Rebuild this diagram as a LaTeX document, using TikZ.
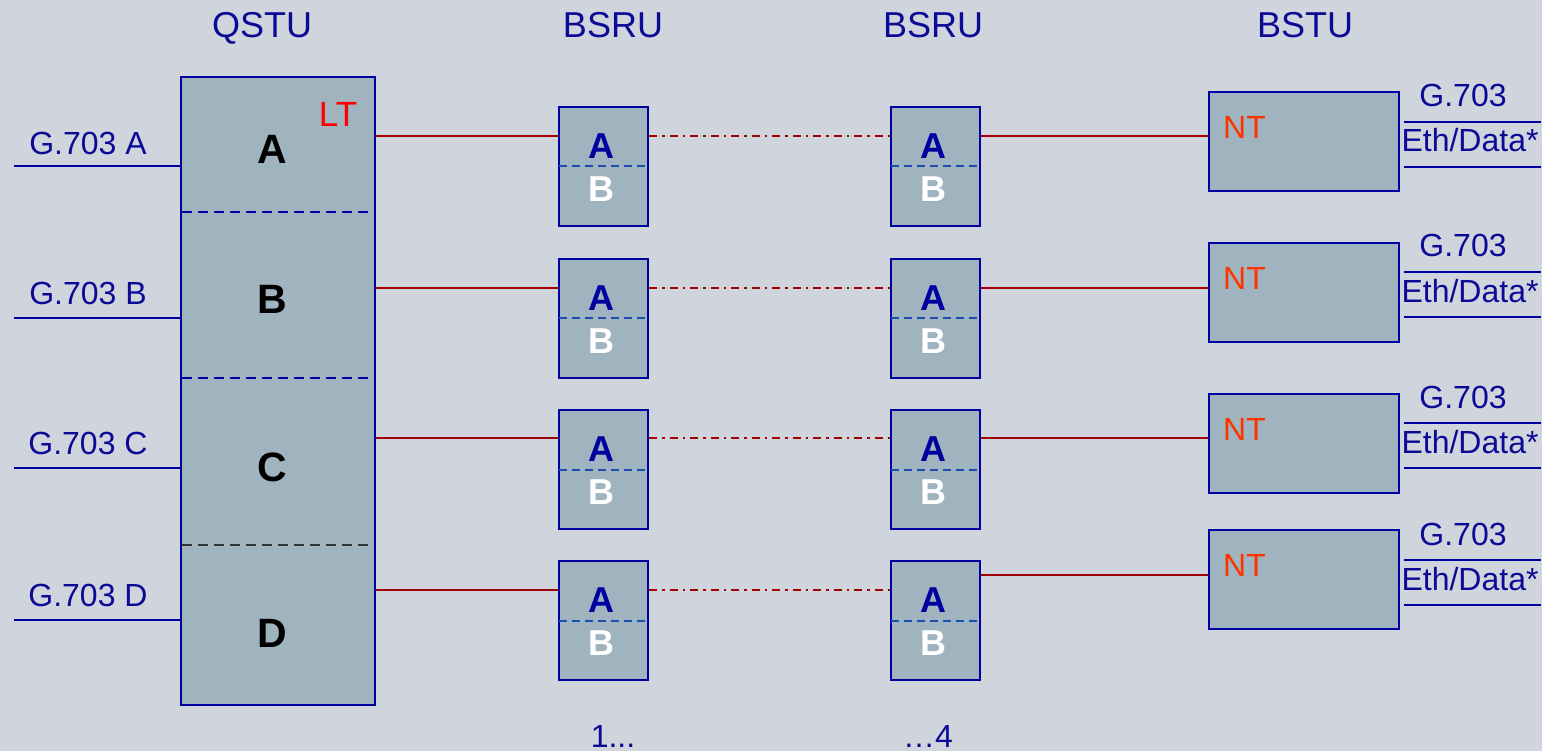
\documentclass[tikz,border=0pt]{standalone}
\usepackage{fontspec}
\setmainfont{Liberation Sans}
\definecolor{bg}{HTML}{D0D4DC}
\definecolor{boxfill}{HTML}{A0B4C0}
\definecolor{boxline}{HTML}{0000A0}
\definecolor{txtblue}{HTML}{0A0A96}
\definecolor{linkred}{HTML}{A00000}
\definecolor{ltred}{HTML}{FF0000}
\definecolor{ntred}{HTML}{FF3300}
\definecolor{divblue}{HTML}{1A4FB0}
\tikzset{
  unitbox/.style={draw=boxline, fill=boxfill, line width=2.4pt, inner sep=0pt},
  qbox/.style={unitbox, minimum width=194pt, minimum height=628pt},
  rbox/.style={unitbox, minimum width=89pt, minimum height=119pt},
  tbox/.style={unitbox, minimum width=190pt, minimum height=99pt},
  txt/.style={anchor=base, inner sep=0pt},
  hdr/.style={txt, text=txtblue, font=\fontsize{36}{40}\selectfont},
  lbl/.style={txt, text=txtblue, font=\fontsize{32}{36}\selectfont},
  qlet/.style={txt, text=black, font=\fontsize{41}{44}\selectfont\bfseries},
  rlA/.style={txt, text=boxline, font=\fontsize{36}{40}\selectfont\bfseries},
  rlB/.style={txt, text=white, font=\fontsize{36}{40}\selectfont\bfseries},
  ltlbl/.style={txt, text=ltred, font=\fontsize{35}{38}\selectfont},
  ntlbl/.style={txt, anchor=base west, text=ntred, font=\fontsize{32}{36}\selectfont},
  inline/.style={draw=boxline, line width=2.4pt},
  link/.style={draw=linkred, line width=2.4pt},
  dlink/.style={draw=linkred, line width=2.4pt, dash pattern=on 8pt off 5pt on 2.5pt off 5pt},
  qdiv/.style={line width=2.4pt, dash pattern=on 10pt off 6pt},
  rdiv/.style={draw=divblue, line width=2pt, dash pattern=on 8pt off 5pt},
}
\begin{document}
\begin{tikzpicture}[x=1pt,y=-1pt]
\fill[bg] (0,0) rectangle (1542,751);
\useasboundingbox (0,0) rectangle (1542,751);

% headers
\node[hdr] (h1) at (262,38) {QSTU};
\node[hdr] (h2) at (613,38) {BSRU};
\node[hdr] (h3) at (933,38) {BSRU};
\node[hdr] (h4) at (1305,38) {BSTU};

% QSTU
\node[qbox] (qstu) at (278,391) {};
\coordinate (qd1) at (0,212);
\coordinate (qd2) at (0,378);
\coordinate (qd3) at (0,545);
\draw[qdiv, draw=boxline] ([xshift=2pt]qstu.west |- qd1) -- ([xshift=-5pt]qstu.east |- qd1);
\draw[qdiv, draw=boxline] ([xshift=2pt]qstu.west |- qd2) -- ([xshift=-5pt]qstu.east |- qd2);
\draw[qdiv, draw=black!80] ([xshift=2pt]qstu.west |- qd3) -- ([xshift=-5pt]qstu.east |- qd3);
\foreach \L/\y in {A/164,B/314,C/481,D/647}
  \node[qlet] (q\L) at (272,\y) {\L};
\node[ltlbl] (lt) at (338,127) {LT};

% rows
\foreach \i/\L/\ly/\gy/\ry/\rc/\tc/\tl/\ol in {
  1/A/166/154.5/136/166.5/141.5/136/122,
  2/B/318/304.5/288/318.5/292.5/288/272,
  3/C/468/454.5/438/469.5/443.5/438/423,
  4/D/620/606.5/590/620.5/579.5/575/560}{
  % input G.703
  \coordinate (lin\i) at (14,\ly);
  \node[lbl] (gl\i) at (88,\gy) {G.703 \L};
  \draw[inline] (lin\i) -- (lin\i -| qstu.west);
  % BSRU boxes
  \node[rbox] (ra\i) at (603.5,\rc) {};
  \node[rbox] (rb\i) at (935.5,\rc) {};
  \draw[rdiv] ([xshift=1pt]ra\i.west) -- ([xshift=-1pt]ra\i.east);
  \draw[rdiv] ([xshift=1pt]rb\i.west) -- ([xshift=-1pt]rb\i.east);
  \node[rlA] (raA\i) at (601,\rc-8) {A};
  \node[rlB] (raB\i) at (601,\rc+35) {B};
  \node[rlA] (rbA\i) at (933,\rc-8) {A};
  \node[rlB] (rbB\i) at (933,\rc+35) {B};
  % links
  \coordinate (rl\i) at (0,\ry);
  \draw[link] (qstu.east |- rl\i) -- (ra\i.west |- rl\i);
  \draw[dlink] (ra\i.east |- rl\i) -- (rb\i.west |- rl\i);
  % BSTU
  \node[tbox] (t\i) at (1304,\tc) {};
  \node[ntlbl] (nt\i) at (1223,\tc-3) {NT};
  \coordinate (tl\i) at (0,\tl);
  \draw[link] (rb\i.east |- tl\i) -- (t\i.west |- tl\i);
  % outputs
  \coordinate (oa\i) at (1404,\ol);
  \coordinate (ob\i) at (1541,\ol);
  \coordinate (oc\i) at (1404,\ol+45);
  \coordinate (od\i) at (1541,\ol+45);
  \draw[inline] (oa\i) -- (ob\i);
  \draw[inline] (oc\i) -- (od\i);
  \node[lbl] (og\i) at (1463,\ol-15) {G.703};
  \node[lbl] (oe\i) at (1470,\ol+30) {Eth/Data*};
}

% bottom labels
\node[lbl] (b1) at (613,747) {1...};
\node[lbl] (b2) at (928,747) {…4};
\end{tikzpicture}
\end{document}
